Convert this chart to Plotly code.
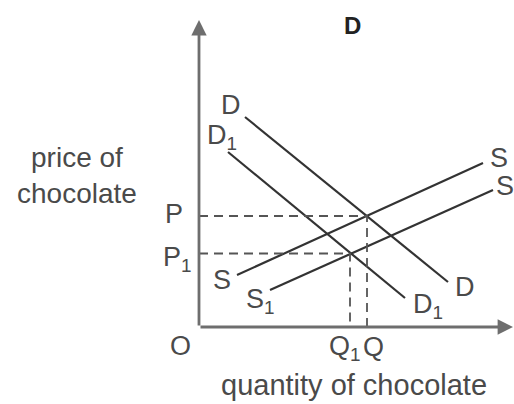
import plotly.graph_objects as go

# Curves in (quantity, price) units
d_q = [4.6, 24.9]
d_p = [21.0, 4.5]
d1_q = [2.9, 20.6]
d1_p = [17.5, 2.9]
s_q = [3.8, 28.4]
s_p = [5.2, 16.4]
s1_q = [7.1, 29.4]
s1_p = [3.7, 13.7]

# Equilibria
eq_q = 16.8
eq_p = 11.1
eq1_q = 15.1
eq1_p = 7.35

axis_q_max = 31.4
axis_p_max = 30.7

LINE = "#333333"
AXIS = "#6e6e6e"
TEXT = "#4a4a4a"
FONT = "Liberation Sans, Arial, sans-serif"

fig = go.Figure()

for q, p in [(d_q, d_p), (d1_q, d1_p), (s_q, s_p), (s1_q, s1_p)]:
    fig.add_trace(go.Scatter(x=q, y=p, mode="lines",
                             line=dict(color=LINE, width=2.2),
                             hoverinfo="skip", showlegend=False))

# Dashed guides to the axes
for q, p in [(eq_q, eq_p), (eq1_q, eq1_p)]:
    fig.add_trace(go.Scatter(x=[0, q, q], y=[p, p, 0], mode="lines",
                             line=dict(color="#555555", width=1.8, dash="9px,6px"),
                             hoverinfo="skip", showlegend=False))

# Axes with arrowheads
fig.add_annotation(x=0, y=axis_p_max, ax=0, ay=0, xref="x", yref="y",
                   axref="x", ayref="y", text="", showarrow=True,
                   arrowhead=2, arrowsize=1.1, arrowwidth=2.8, arrowcolor=AXIS,
                   standoff=0)
fig.add_annotation(x=axis_q_max, y=0, ax=0, ay=0, xref="x", yref="y",
                   axref="x", ayref="y", text="", showarrow=True,
                   arrowhead=2, arrowsize=1.1, arrowwidth=2.8, arrowcolor=AXIS,
                   standoff=0)


def label(x, y, text, size=27, dx=0, dy=0, bold=False, xanchor="center"):
    fig.add_annotation(x=x, y=y, xref="x", yref="y", text=text,
                       showarrow=False, xshift=dx, yshift=dy,
                       xanchor=xanchor, yanchor="middle",
                       font=dict(family=FONT, size=size, color="#222222" if bold else TEXT,
                                 weight="bold" if bold else "normal"))


# Curve labels
label(d_q[0], d_p[0], "D", dx=-14, dy=12)
label(d_q[1], d_p[1], "D", dx=17, dy=-5)
label(d1_q[0], d1_p[0], "D<sub>1</sub>", dx=-6, dy=15)
label(d1_q[1], d1_p[1], "D<sub>1</sub>", dx=23, dy=-8)
label(s_q[0], s_p[0], "S", dx=-15, dy=-5)
label(s_q[1], s_p[1], "S", dx=16, dy=5)
label(s1_q[0], s1_p[0], "S<sub>1</sub>", dx=-10, dy=-11)
label(s1_q[1], s1_p[1], "S", dx=12, dy=4)

# Axis labels
label(0, eq_p, "P", dx=-25, dy=2)
label(0, eq1_p, "P<sub>1</sub>", dx=-22, dy=-5)
label(0, 0, "O", dx=-19, dy=-19)
label(eq1_q, 0, "Q<sub>1</sub>", dx=-5, dy=-21)
label(eq_q, 0, "Q", dx=6, dy=-20)
label(15.5, 0, "quantity of chocolate", size=29, dy=-58)
label(-18.4, 15.2, "price of<br>chocolate", size=28, xanchor="left")
label(15.3, 30.2, "D", size=24, bold=True)

fig.update_xaxes(range=[-19.9, 31.5], visible=False, fixedrange=True)
fig.update_yaxes(range=[-7.7, 32.7], visible=False, fixedrange=True)
fig.update_layout(width=514, height=404, autosize=False,
                  margin=dict(l=0, r=0, t=0, b=0),
                  paper_bgcolor="white", plot_bgcolor="white")

fig.write_html("out.html")
